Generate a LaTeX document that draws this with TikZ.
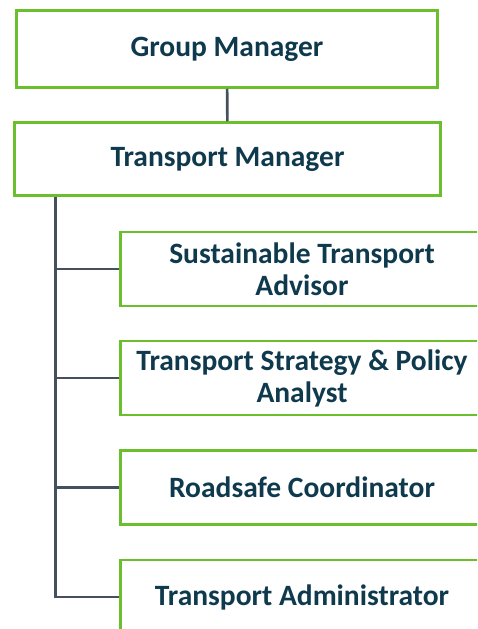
\documentclass[tikz,border=0pt]{standalone}
\usepackage{fontspec}
\setmainfont{Carlito}
\usetikzlibrary{positioning}
\definecolor{cgreen}{HTML}{6CBF2C}
\definecolor{cnavy}{HTML}{0F3A4D}
\definecolor{cline}{HTML}{454F5E}
\tikzset{
  every picture/.style={x=1pt, y=1pt, font=\fontsize{29.5}{32}\selectfont\bfseries},
  rolebox/.style={draw=cgreen, line width=2.5pt, fill=white, text=cnavy, align=center, inner sep=0pt},
  link/.style={draw=cline, line width=2.6pt},
}

\begin{document}
\begin{tikzpicture}
  \clip (0,0) rectangle (477,-629);
  \tikzset{sub/.style={rolebox, minimum width=363pt, minimum height=74pt}}
  % managers
  \node[rolebox, minimum width=421pt, minimum height=77pt] (gm) at (227,-49) {Group Manager};
  \node[rolebox, minimum width=426pt, minimum height=73pt] (tm) at (227.5,-159) {Transport Manager};
  \draw[link] (gm) -- (tm);
  % team
  \coordinate (trunk) at (55.5,-200);
  \node[sub] (sta) at (302,-269) {Sustainable Transport\\Advisor};
  \node[sub] (tsp) at (302,-378) {Transport Strategy \& Policy\\Analyst};
  \node[sub] (rsc) at (302,-487.5) {Roadsafe Coordinator};
  \node[sub] (tad) at (302,-597) {Transport Administrator};
  \draw[link] (tm.south -| trunk) |- (tad.west);
  \draw[link] (tm.south -| trunk) |- (sta.west);
  \draw[link] (tm.south -| trunk) |- (tsp.west);
  \draw[link] (tm.south -| trunk) |- (rsc.west);
\end{tikzpicture}
\end{document}
